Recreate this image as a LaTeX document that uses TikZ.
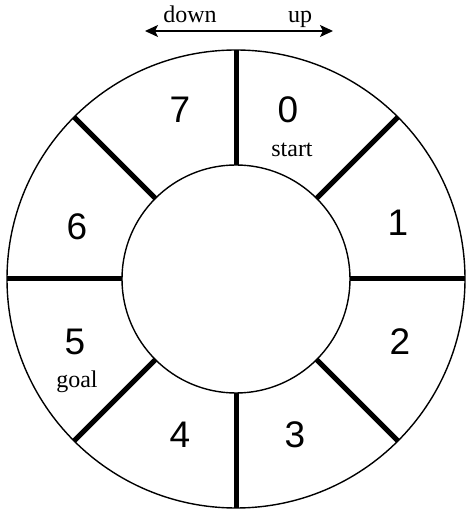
\documentclass[tikz,border=0pt]{standalone}
\usepackage{fontspec}
\setmainfont{Liberation Serif}
\newfontfamily\numfont{Liberation Sans}
\usetikzlibrary{arrows.meta}

\begin{document}
\begin{tikzpicture}[x=1pt, y=1pt,
  ring/.style={circle, draw, line width=1.4pt, inner sep=0pt, outer sep=0pt},
  divider/.style={draw, line width=5pt},
  num/.style={font=\numfont\fontsize{37}{40}\selectfont},
  tag/.style={font=\fontsize{24}{26}\selectfont},
  dirarrow/.style={draw, line width=1.4pt, {Stealth[length=13pt, width=12pt, inset=3pt]}-{Stealth[length=13pt, width=12pt, inset=3pt]}}
]
  \useasboundingbox (-236,-231) rectangle (229,279);
  \node[ring, minimum size=458pt] (outer) at (0,0) {};
  \node[ring, minimum size=228pt] (inner) at (0,0) {};
  \draw[divider] (outer.90)  -- (inner.90);
  \draw[divider] (outer.45)  -- (inner.45);
  \draw[divider] (outer.0)   -- (inner.0);
  \draw[divider] (outer.-45) -- (inner.-45);
  \draw[divider] (outer.-90) -- (inner.-90);
  \draw[divider] (outer.-135) -- (inner.-135);
  \draw[divider] (outer.180) -- (inner.180);
  \draw[divider] (outer.135) -- (inner.135);
  \node[num] (s0) at (52,169)    {0};  \node[tag] (start) at (56,129) {start};
  \node[num] (s1) at (162,56)    {1};
  \node[num] (s2) at (164,-63)   {2};
  \node[num] (s3) at (59,-156)   {3};
  \node[num] (s4) at (-56,-156)  {4};
  \node[num] (s5) at (-161,-63)  {5};  \node[tag] (goal) at (-159,-103) {goal};
  \node[num] (s6) at (-159,52)   {6};
  \node[num] (s7) at (-56,169)   {7};
  \coordinate (downend) at (-91,248);
  \coordinate (upend) at (97,248);
  \draw[dirarrow] (downend) -- (upend);
  \node[tag, anchor=base] (down) at (-46,256) {down};
  \node[tag, anchor=base] (up) at (64,256) {up};
\end{tikzpicture}
\end{document}
